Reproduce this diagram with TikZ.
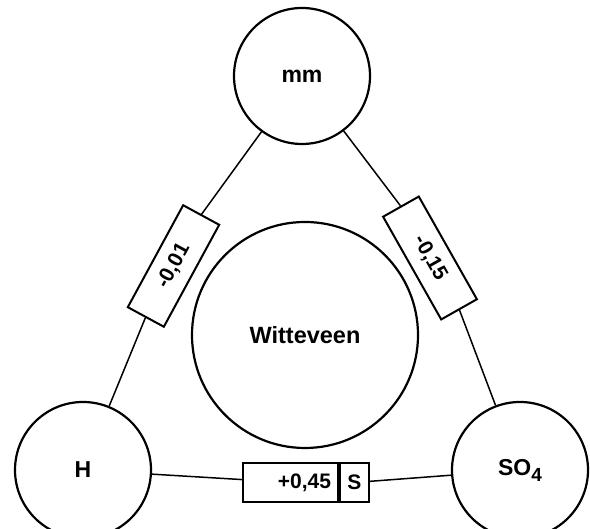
\documentclass[tikz,border=0pt]{standalone}
\usepackage{fontspec}
\setmainfont{Liberation Sans}
\usetikzlibrary{positioning}

\begin{document}
\begin{tikzpicture}[
  x=1pt, y=1pt,
  species/.style={circle, draw, line width=2.2pt, inner sep=0pt, minimum size=136pt, font=\fontsize{23}{27}\selectfont\bfseries},
  coef/.style={rectangle, draw, line width=2pt, inner sep=0pt, minimum width=118pt, minimum height=41pt, font=\fontsize{21}{24}\selectfont\bfseries},
  link/.style={line width=1.5pt}
]
\useasboundingbox (0,0) rectangle (590,529);

% Species
\node[species] (mm) at (302,453) {mm};
\node[species] (h) at (83,59) {H};
\node[species] (so4) at (520,59) {SO\raisebox{-6pt}{\fontsize{19}{19}\selectfont 4}};

% Central circle
\node[species, minimum size=226pt, font=\fontsize{23.5}{27}\selectfont\bfseries] (wit) at (305,194) {Witteveen};

% Coefficients on the sides
\node[coef, rotate=61.5, minimum width=116pt] (k01) at (173.5,263) {-0,01};
\node[coef, rotate=-60.5] (k15) at (430,271) {-0,15};
\node[coef, minimum width=95pt, minimum height=39pt, inner xsep=7pt, text width=81pt, align=right] (k45) at (290.5,46.5) {+0,45};
\node[coef, minimum width=29pt, minimum height=39pt, right=0pt of k45] (ks) {S};

% Connections
\draw[link] (mm) -- (k01.east);
\draw[link] (k01.west) -- (h);
\draw[link] (mm) -- (k15.west);
\draw[link] (k15.east) -- (so4);
\draw[link] (h) -- (k45);
\draw[link] (ks) -- (so4);

\end{tikzpicture}
\end{document}
